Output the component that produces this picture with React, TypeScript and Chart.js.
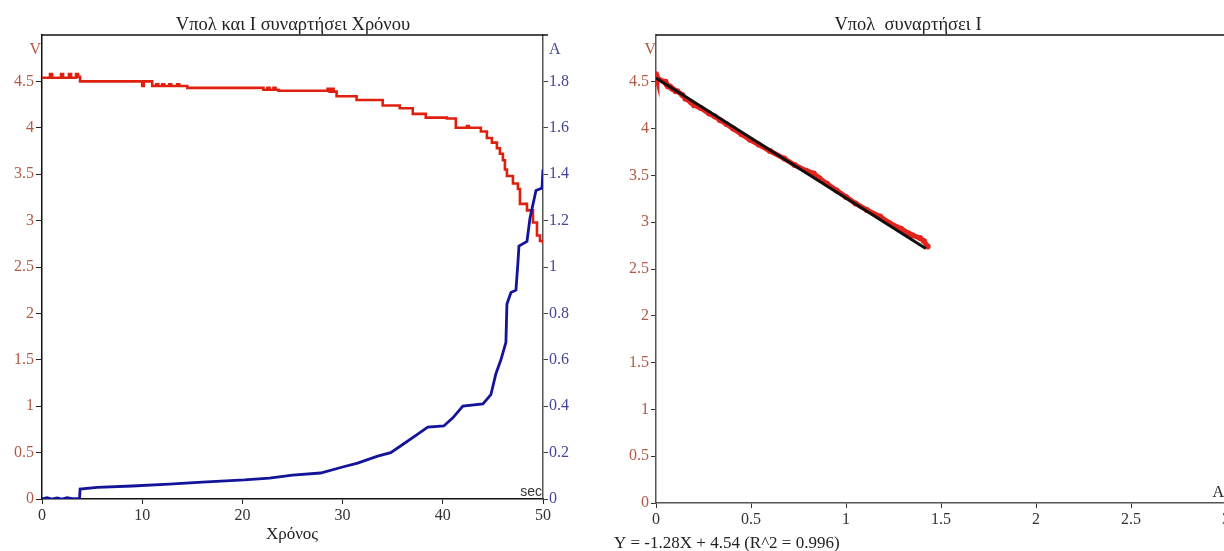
import React, { useEffect, useRef } from "react";
import { Chart, registerables } from "chart.js";
Chart.register(...registerables);

// ---------- Data: left chart (V and I vs time) ----------
const vTime = [0, 0.8, 1.0, 1.9, 2.1, 2.7, 2.9, 3.4, 3.6, 3.8, 10.0, 10.15, 11.0, 11.4, 11.6, 12.0, 12.2, 12.7, 12.9, 13.5, 13.7, 14.5, 22.1, 22.5, 22.7, 23.1, 23.3, 23.6, 28.5, 28.7, 28.9, 29.1, 29.4, 31.4, 34.0, 35.7, 37.0, 38.3, 40.4, 41.3, 42.4, 42.6, 43.8, 44.4, 44.9, 45.4, 45.7, 46.0, 46.2, 46.4, 47.0, 47.5, 47.7, 48.4, 49.0, 49.4, 49.7, 50.0];
const vValues = [4.54, 4.58, 4.54, 4.58, 4.54, 4.58, 4.54, 4.58, 4.55, 4.5, 4.45, 4.5, 4.45, 4.47, 4.45, 4.47, 4.45, 4.47, 4.45, 4.47, 4.45, 4.43, 4.41, 4.43, 4.41, 4.43, 4.41, 4.4, 4.42, 4.39, 4.42, 4.39, 4.34, 4.3, 4.24, 4.21, 4.15, 4.11, 4.1, 4.0, 4.02, 4.0, 3.96, 3.89, 3.84, 3.78, 3.72, 3.65, 3.55, 3.48, 3.4, 3.34, 3.18, 3.11, 2.98, 2.84, 2.78, 2.75];

const iTime = [0, 0.5, 1.0, 1.5, 2.0, 2.5, 3.0, 3.75, 3.8, 5.5, 9.0, 12.7, 16.0, 20.2, 22.7, 25.0, 27.8, 30.0, 31.5, 33.5, 34.8, 36.0, 37.5, 38.5, 40.1, 41.0, 42.0, 44.0, 44.8, 45.3, 45.8, 46.3, 46.4, 46.8, 47.3, 47.5, 47.6, 48.4, 48.7, 49.3, 49.9, 50.0];
const iValues = [0.0, 0.006, 0.0, 0.005, 0.0, 0.006, 0.002, 0.003, 0.043, 0.05, 0.056, 0.064, 0.073, 0.082, 0.09, 0.103, 0.112, 0.138, 0.155, 0.185, 0.2, 0.235, 0.28, 0.31, 0.315, 0.35, 0.4, 0.41, 0.45, 0.54, 0.6, 0.675, 0.84, 0.89, 0.9, 1.02, 1.09, 1.11, 1.21, 1.33, 1.34, 1.42];

// ---------- Data: right chart (V vs I) ----------
const viCurrent = [0, 0.005, 0.043, 0.05, 0.056, 0.064, 0.074, 0.082, 0.09, 0.103, 0.112, 0.138, 0.155, 0.185, 0.2, 0.235, 0.28, 0.31, 0.337, 0.37, 0.406, 0.45, 0.495, 0.54, 0.6, 0.675, 0.73, 0.79, 0.83, 0.86, 0.9, 0.95, 1.0, 1.05, 1.11, 1.18, 1.23, 1.29, 1.33, 1.35, 1.39, 1.41, 1.43];
const viVoltage = [4.58, 4.54, 4.5, 4.5, 4.47, 4.45, 4.45, 4.43, 4.42, 4.4, 4.4, 4.36, 4.32, 4.28, 4.25, 4.22, 4.16, 4.13, 4.09, 4.05, 4.0, 3.94, 3.88, 3.83, 3.76, 3.68, 3.61, 3.55, 3.52, 3.47, 3.41, 3.34, 3.27, 3.2, 3.13, 3.06, 2.99, 2.93, 2.88, 2.86, 2.83, 2.8, 2.74];
const fitX = [0, 1.42];
const fitY = [4.54, 2.72];

const leftTitle = "Vπολ και I συναρτήσει Χρόνου";
const rightTitle = "Vπολ  συναρτήσει I";
const equationText = "Y = -1.28X + 4.54 (R^2 = 0.996)";
const xTitleLeft = "Χρόνος";

const SERIF = "'Liberation Serif', 'DejaVu Serif', serif";
const BROWN = "#b25a46";
const SLATE = "#45459c";
const DARK = "#333333";

function fmt(v: number) {
  return String(Number(v.toFixed(2)));
}

function fixedSize(size: number, dim: "width" | "height") {
  return (scale: any) => {
    scale[dim] = size;
  };
}

export default function App() {
  const leftRef = useRef<HTMLCanvasElement>(null);
  const rightRef = useRef<HTMLCanvasElement>(null);

  useEffect(() => {
    const leftPlugin = {
      id: "leftTexts",
      afterDraw(chart: any) {
        const ctx = chart.ctx;
        const a = chart.chartArea;
        ctx.save();
        ctx.strokeStyle = "#111";
        ctx.lineWidth = 1.5;
        ctx.beginPath();
        ctx.moveTo(a.left, a.top);
        ctx.lineTo(a.right + 5, a.top);
        ctx.stroke();
        ctx.textBaseline = "alphabetic";
        ctx.font = `18.5px ${SERIF}`;
        ctx.fillStyle = "#222";
        ctx.textAlign = "center";
        ctx.fillText(leftTitle, 293, 30);
        ctx.font = `17px ${SERIF}`;
        ctx.fillText(xTitleLeft, 292, 539);
        ctx.font = `16px ${SERIF}`;
        ctx.fillStyle = BROWN;
        ctx.textAlign = "right";
        ctx.fillText("V", a.left - 1, 54);
        ctx.fillStyle = SLATE;
        ctx.textAlign = "left";
        ctx.fillText("A", a.right + 6, 54);
        ctx.fillStyle = DARK;
        ctx.textAlign = "right";
        ctx.font = `14px 'Liberation Sans', Arial, sans-serif`;
        ctx.fillText("sec", a.right - 1, a.bottom - 3);
        ctx.restore();
      },
    };

    const rightPlugin = {
      id: "rightTexts",
      afterDraw(chart: any) {
        const ctx = chart.ctx;
        const a = chart.chartArea;
        ctx.save();
        ctx.strokeStyle = "#111";
        ctx.lineWidth = 1.5;
        ctx.beginPath();
        ctx.moveTo(a.left, a.top);
        ctx.lineTo(a.right + 20, a.top);
        ctx.stroke();
        ctx.font = `18.5px ${SERIF}`;
        ctx.fillStyle = "#222";
        ctx.textAlign = "center";
        ctx.fillText(rightTitle, 308, 30);
        ctx.font = `16px ${SERIF}`;
        ctx.fillStyle = BROWN;
        ctx.textAlign = "right";
        ctx.fillText("V", a.left, 54);
        ctx.fillStyle = "#222";
        ctx.textAlign = "right";
        ctx.fillText("A", 624, a.bottom - 6);
        ctx.textAlign = "left";
        ctx.font = `17px ${SERIF}`;
        ctx.fillText(equationText, 14, 548);
        ctx.restore();
      },
    };

    const tickFont = { family: SERIF, size: 16 };

    const left = new Chart(leftRef.current!, {
      type: "line",
      data: {
        datasets: [
          {
            label: "I",
            data: iTime.map((t, k) => ({ x: t, y: iValues[k] })),
            yAxisID: "y1",
            borderColor: "#14149a",
            borderWidth: 2.8,
            pointRadius: 0,
            fill: false,
            tension: 0,
          },
          {
            label: "V",
            data: vTime.map((t, k) => ({ x: t, y: vValues[k] })),
            yAxisID: "y",
            borderColor: "#e0200e",
            borderWidth: 2.6,
            pointRadius: 0,
            fill: false,
            stepped: true,
          },
        ],
      },
      options: {
        responsive: false,
        animation: false,
        devicePixelRatio: 1,
        layout: { padding: { top: 35, left: 0, right: 0, bottom: 0 } },
        plugins: { legend: { display: false }, tooltip: { enabled: false }, title: { display: false } },
        scales: {
          x: {
            type: "linear",
            min: 0,
            max: 50,
            afterFit: fixedSize(52, "height"),
            ticks: { stepSize: 10, color: DARK, font: tickFont, padding: 2, maxRotation: 0 },
            grid: { drawOnChartArea: false, color: "#222", tickLength: 5 },
            border: { display: true, color: "#111", width: 1.5 },
          },
          y: {
            type: "linear",
            position: "left",
            min: 0,
            max: 5,
            afterFit: fixedSize(42, "width"),
            ticks: {
              stepSize: 0.5,
              color: BROWN,
              font: tickFont,
              padding: 2,
              callback: (v: any) => (v >= 5 ? null : fmt(v)),
            },
            grid: { drawOnChartArea: false, color: "#222", tickLength: 6 },
            border: { display: true, color: "#111", width: 1.5 },
          },
          y1: {
            type: "linear",
            position: "right",
            min: 0,
            max: 2,
            afterFit: fixedSize(57, "width"),
            ticks: {
              stepSize: 0.2,
              color: SLATE,
              font: tickFont,
              padding: 1,
              callback: (v: any) => (v >= 1.99 ? null : fmt(v)),
            },
            grid: { drawOnChartArea: false, color: "#444", tickLength: 5 },
            border: { display: true, color: "#555", width: 1.5 },
          },
        },
      },
      plugins: [leftPlugin],
    } as any);

    const right = new Chart(rightRef.current!, {
      type: "line",
      data: {
        datasets: [
          {
            label: "fit",
            data: fitX.map((x, k) => ({ x, y: fitY[k] })),
            borderColor: "#141010",
            borderWidth: 3,
            pointRadius: 0,
            fill: false,
          },
          {
            label: "V(I)",
            data: viCurrent.map((x, k) => ({ x, y: viVoltage[k] })),
            borderColor: "#e3231c",
            backgroundColor: "#e3231c",
            borderWidth: 5,
            pointRadius: 3,
            pointBorderWidth: 0,
            fill: false,
          },
        ],
      },
      options: {
        responsive: false,
        animation: false,
        devicePixelRatio: 1,
        layout: { padding: { top: 35, left: 0, right: 14, bottom: 0 } },
        plugins: { legend: { display: false }, tooltip: { enabled: false }, title: { display: false } },
        scales: {
          x: {
            type: "linear",
            min: 0,
            max: 3,
            afterFit: fixedSize(48, "height"),
            ticks: { stepSize: 0.5, color: DARK, font: tickFont, padding: 2, maxRotation: 0, callback: (v: any) => fmt(v) },
            grid: { drawOnChartArea: false, color: "#333", tickLength: 5 },
            border: { display: true, color: "#555", width: 1.5 },
          },
          y: {
            type: "linear",
            position: "left",
            min: 0,
            max: 5,
            afterFit: fixedSize(56, "width"),
            ticks: {
              stepSize: 0.5,
              color: BROWN,
              font: tickFont,
              padding: 2,
              callback: (v: any) => (v >= 5 ? null : fmt(v)),
            },
            grid: { drawOnChartArea: false, color: "#333", tickLength: 5 },
            border: { display: true, color: "#555", width: 1.5 },
          },
        },
      },
      plugins: [rightPlugin],
    } as any);

    return () => {
      left.destroy();
      right.destroy();
    };
  }, []);

  return (
    <div
      style={{
        position: "absolute",
        left: 0,
        top: 0,
        width: 1224,
        height: 551,
        overflow: "hidden",
        background: "#ffffff",
      }}
    >
      <canvas ref={leftRef} width={600} height={551} style={{ position: "absolute", left: 0, top: 0 }} />
      <canvas ref={rightRef} width={640} height={551} style={{ position: "absolute", left: 600, top: 0 }} />
    </div>
  );
}
